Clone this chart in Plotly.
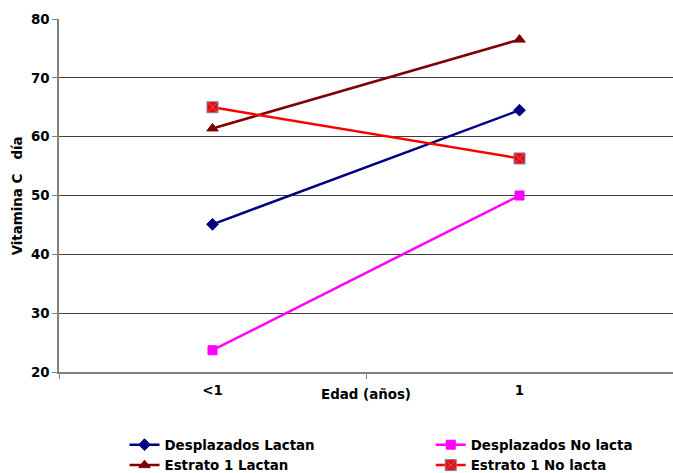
import plotly.graph_objects as go

# Age groups on the category axis
edad = ["<1", "1"]

# Vitamin C intake per day, by group
desplazados_lactan = [45.1, 64.5]
desplazados_no_lacta = [23.7, 50.0]
estrato1_lactan = [61.4, 76.5]
estrato1_no_lacta = [65.0, 56.3]

y_ticks = [20, 30, 40, 50, 60, 70, 80]

FONT = "Verdana, DejaVu Sans, sans-serif"
BOLD13 = dict(family=FONT, size=13.4, color="black", weight="bold")

# name, values, colour, symbol, size, edge colour, legend column
series = [
    ("Desplazados Lactan", desplazados_lactan, "#000080", "diamond", 9, "#000080", "legend"),
    ("Desplazados No lacta", desplazados_no_lacta, "#FF00FF", "square", 9, "#FF00FF", "legend2"),
    ("Estrato 1 Lactan", estrato1_lactan, "#800000", "triangle-up", 10, "#800000", "legend"),
    ("Estrato 1 No lacta", estrato1_no_lacta, "#FF0000", "square-x", 11, "#7f7f9f", "legend2"),
]

fig = go.Figure()
for name, vals, color, symbol, size, edge, leg in series:
    fig.add_trace(go.Scatter(
        x=edad, y=vals, name=name, mode="lines+markers",
        line=dict(color=color, width=2.5),
        marker=dict(symbol=symbol, size=size, color=color,
                    line=dict(color=edge, width=1)),
        legend=leg,
    ))

legend_style = dict(
    orientation="v", xref="container", yref="container",
    xanchor="left", yanchor="top", y=0.092, itemwidth=30,
    font=BOLD13, tracegroupgap=0, bgcolor="rgba(0,0,0,0)",
    traceorder="normal",
)

fig.update_layout(
    width=673, height=473,
    margin=dict(l=59, r=0, t=19, b=101, autoexpand=False),
    plot_bgcolor="white", paper_bgcolor="white",
    font=BOLD13,
    showlegend=True,
    legend=dict(x=0.185, **legend_style),
    legend2=dict(x=0.640, **legend_style),
    annotations=[
        dict(text="Edad (años)", xref="paper", yref="paper",
             x=0.5, y=-0.065, xanchor="center", yanchor="middle",
             showarrow=False, font=BOLD13),
        dict(text="Vitamina C\u00a0\u00a0\u00a0día", xref="paper", yref="paper",
             x=-0.067, y=0.5, xanchor="center", yanchor="middle",
             textangle=-90, showarrow=False, font=BOLD13),
    ],
)

fig.update_xaxes(
    type="category", range=[-0.5, 1.5],
    tickson="boundaries", ticks="outside", ticklen=5, tickcolor="#808080",
    showline=True, linecolor="#808080", linewidth=1.5,
    showgrid=False, zeroline=False, ticklabelstandoff=5,
    tickfont=BOLD13,
)

fig.update_yaxes(
    range=[20, 80], tickvals=y_ticks,
    ticks="outside", ticklen=5, tickcolor="#808080",
    showline=True, linecolor="#808080", linewidth=1.5,
    showgrid=True, gridcolor="#404040", gridwidth=1, zeroline=False,
    tickfont=BOLD13,
)

fig.write_html("out.html")
